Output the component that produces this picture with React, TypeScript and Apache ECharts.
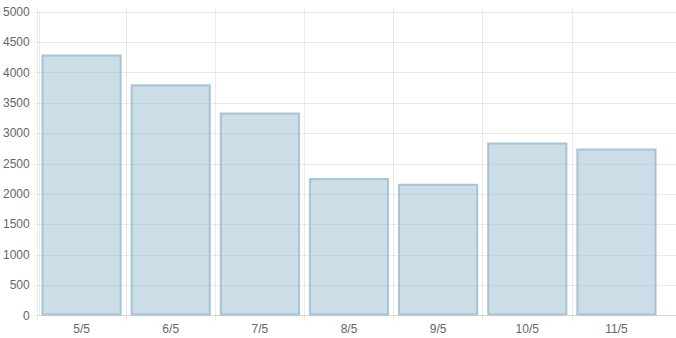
import React, { useEffect, useRef } from "react";
import * as echarts from "echarts";

const categories = ["5/5", "6/5", "7/5", "8/5", "9/5", "10/5", "11/5"];
const values = [4300, 3810, 3345, 2265, 2170, 2850, 2750];
const yMin = 0;
const yMax = 5000;
const yStep = 500;

const lineColor = "rgba(0,0,0,0.08)";
const textColor = "#666";
const font = "'Liberation Sans', Arial, Helvetica, sans-serif";

export default function App() {
  const ref = useRef<HTMLDivElement>(null);
  useEffect(() => {
    if (!ref.current) return;
    const chart = echarts.init(ref.current, undefined, { renderer: "svg" });
    const nCat = categories.length;
    chart.setOption({
      animation: false,
      textStyle: { fontFamily: font },
      grid: [
        { left: 37, right: 0, top: 12, bottom: 22.5 },
        { left: 37, right: 15, top: 12, bottom: 22.5 },
        { left: 37, right: 15 + 624 / nCat, top: 9, bottom: 22.5 },
      ],
      xAxis: [
        {
          gridIndex: 0,
          type: "value",
          min: 0,
          max: 1,
          axisLine: { show: true, onZero: false, lineStyle: { color: lineColor, width: 1 } },
          axisTick: { show: false },
          axisLabel: { show: false },
          splitLine: { show: false },
        },
        {
          gridIndex: 1,
          type: "category",
          data: categories,
          boundaryGap: true,
          axisLine: { show: false },
          axisTick: { show: false },
          axisLabel: { color: textColor, fontSize: 12, margin: 7, fontFamily: font },
          splitLine: { show: false },
        },
        {
          gridIndex: 2,
          type: "value",
          min: 0,
          max: nCat - 1,
          interval: 1,
          axisLine: { show: false },
          axisTick: { show: true, length: 5, lineStyle: { color: lineColor } },
          axisLabel: { show: false },
          splitLine: { show: true, lineStyle: { color: lineColor, width: 1 } },
        },
      ],
      yAxis: [
        {
          gridIndex: 0,
          type: "value",
          min: yMin,
          max: yMax,
          interval: yStep,
          axisLine: { show: true, lineStyle: { color: lineColor, width: 1 } },
          axisTick: { show: true, length: 5, lineStyle: { color: lineColor } },
          axisLabel: {
            color: textColor,
            fontSize: 12,
            margin: 10,
            fontFamily: font,
            formatter: (v: number) => String(v),
          },
          splitLine: { show: true, lineStyle: { color: lineColor, width: 1 } },
        },
        {
          gridIndex: 1,
          type: "value",
          min: yMin,
          max: yMax,
          interval: yStep,
          show: false,
        },
        {
          gridIndex: 2,
          type: "value",
          min: 0,
          max: 1,
          show: false,
        },
      ],
      series: [
        {
          type: "bar",
          xAxisIndex: 1,
          yAxisIndex: 1,
          data: values,
          barCategoryGap: "10%",
          itemStyle: {
            color: "rgba(151,187,205,0.5)",
            borderColor: "rgba(151,187,205,0.8)",
            borderWidth: 2,
          },
        },
      ],
    });
    return () => chart.dispose();
  }, []);
  return <div ref={ref} style={{ width: 676, height: 338, position: "absolute", left: 0, top: 0 }} />;
}
